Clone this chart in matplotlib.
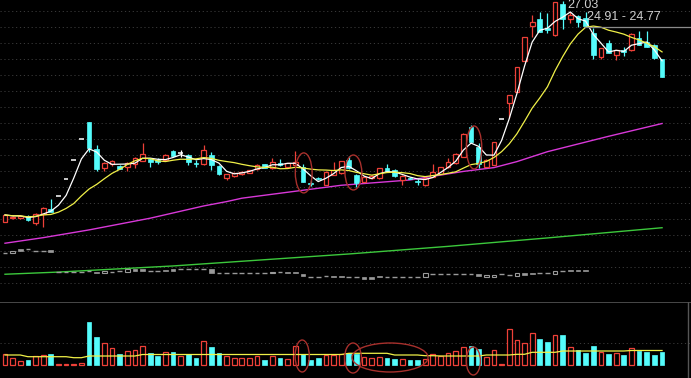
import numpy as np
import pandas as pd
import matplotlib
matplotlib.use("Agg")
import matplotlib.pyplot as plt
from matplotlib.patches import Ellipse

# ---------------- data ----------------
opens = [10.83, 11.08, 11.08, 11.25, 10.75, 11.39, 11.76, 12.72, 13.99, 15.39,
         16.93, 18.18, 16.15, 14.75, 15.05, 14.92, 14.82, 15.07, 15.31, 15.44,
         15.36, 15.36, 16.05, 15.85, 15.73, 15.16, 15.07, 15.73, 14.92, 14.00,
         14.19, 14.31, 14.43, 14.68, 15.05, 14.75, 15.12, 14.87, 14.99, 14.85,
         13.69, 14.04, 13.52, 14.26, 14.38, 15.36, 14.26, 13.77, 14.02, 14.02,
         14.75, 14.66, 13.89, 14.04, 13.80, 13.49, 14.13, 14.35, 14.81, 15.12,
         15.60, 17.76, 16.32, 14.85, 14.99, 18.34, 19.53, 20.38, 22.64, 25.20,
         25.70, 25.06, 24.55, 26.83, 25.70, 25.98, 25.78, 24.67, 22.93, 23.94,
         23.08, 23.45, 23.41, 24.31, 24.03, 23.81, 22.76]
closes = [11.32, 11.19, 11.25, 10.95, 11.39, 11.83, 11.56, 12.72, 13.99, 15.39,
          16.93, 16.22, 14.68, 15.12, 15.31, 14.72, 15.16, 15.49, 15.80, 15.19,
          15.24, 15.73, 15.66, 15.85, 15.21, 15.08, 16.10, 14.99, 14.30, 14.30,
          14.43, 14.50, 14.63, 14.99, 14.80, 15.24, 14.99, 15.12, 15.24, 13.77,
          13.61, 13.93, 14.50, 14.63, 15.29, 14.75, 13.65, 14.13, 14.19, 14.75,
          14.55, 14.15, 14.19, 13.98, 13.73, 14.05, 14.44, 14.82, 15.18, 15.82,
          17.27, 16.71, 15.09, 15.38, 16.67, 18.34, 20.17, 22.19, 24.41, 25.47,
          24.79, 24.88, 26.97, 25.73, 26.02, 25.48, 25.21, 23.08, 23.57, 23.25,
          23.45, 23.32, 24.62, 23.81, 23.67, 22.84, 21.44]
highs = [11.39, 11.25, 11.28, 11.28, 11.43, 11.91, 12.50, 12.72, 13.99, 15.39,
         16.93, 18.18, 16.46, 15.18, 15.36, 14.96, 15.21, 15.55, 16.63, 15.47,
         15.51, 15.77, 16.10, 16.10, 15.77, 15.36, 16.43, 15.97, 14.96, 14.33,
         14.48, 14.55, 14.66, 15.03, 15.07, 15.49, 15.44, 15.14, 15.99, 15.05,
         13.89, 14.11, 14.55, 15.24, 15.32, 15.66, 14.30, 14.19, 14.22, 14.77,
         15.07, 14.70, 14.22, 14.11, 13.97, 14.09, 15.10, 14.85, 15.47, 15.88,
         17.35, 17.93, 16.59, 15.44, 16.71, 18.34, 20.17, 22.19, 24.41, 26.02,
         26.26, 26.14, 27.00, 27.03, 26.26, 26.02, 26.26, 25.06, 23.59, 24.18,
         23.48, 23.69, 24.72, 24.84, 24.87, 23.85, 22.79]
lows = [10.77, 11.03, 11.03, 10.91, 10.58, 10.46, 11.54, 12.72, 13.99, 15.39,
        16.93, 15.97, 14.55, 14.55, 14.92, 14.70, 14.55, 14.77, 15.29, 14.87,
        15.07, 15.32, 15.62, 15.60, 14.99, 14.87, 14.99, 14.63, 14.26, 13.89,
        14.11, 14.26, 14.41, 14.63, 14.77, 14.72, 14.92, 14.85, 14.96, 13.74,
        13.45, 13.89, 13.49, 14.22, 14.33, 14.71, 13.35, 13.74, 13.98, 13.98,
        14.52, 14.11, 13.52, 13.93, 13.52, 13.45, 14.11, 14.33, 14.77, 15.07,
        15.58, 16.68, 14.77, 14.81, 14.96, 18.34, 18.45, 20.36, 22.60, 24.37,
        24.77, 24.67, 24.51, 24.99, 25.45, 25.14, 25.17, 22.76, 22.75, 23.23,
        22.71, 23.01, 23.37, 23.78, 23.63, 22.80, 21.43]
volumes = [10700, 6700, 4300, 5000, 9000, 10000, 11000, 900, 900, 900,
           2000, 43300, 28300, 21700, 17300, 10700, 14000, 15000, 19000, 11700,
           9300, 12700, 12700, 9300, 10700, 7300, 24000, 18300, 11700, 9000,
           7300, 7300, 7300, 9000, 5000, 9000, 6700, 6000, 19000, 10700,
           5000, 7300, 10000, 10000, 10700, 11700, 10700, 8300, 6700, 8300,
           7300, 5700, 6000, 5000, 5000, 6000, 10700, 9300, 12300, 14000,
           18000, 19000, 15700, 8300, 15000, 900, 36000, 25000, 21700, 31700,
           26000, 23300, 30000, 30000, 18300, 15000, 11700, 19000, 13300, 11000,
           12300, 10000, 16700, 14000, 12700, 10000, 13300]
vol_ma = ([10000] * 3 + [8300] * 6 + [7300] * 2 + [9000] * 7 + [10500] * 27 +
          [11700] * 6 + [10000] * 4 + [9300] * 2 + [9000] * 6 + [10000] * 4 +
          [10700] * 2 + [12700] * 4 + [14000] * 9 + [14500] * 5)

# long moving averages, read at a few candles
ma_mag_idx = [0, 5, 11, 19, 26, 29, 31, 44, 53, 60, 64, 67, 71, 79, 86]
ma_mag_val = [9.24, 9.65, 10.22, 11.08, 11.98, 12.30, 12.55, 13.50, 13.89,
              14.52, 14.80, 15.24, 15.97, 17.10, 18.04]
ma_grn_idx = [0, 7, 22, 45, 58, 71, 86]
ma_grn_val = [6.96, 7.12, 7.57, 8.45, 9.01, 9.63, 10.38]

# grey overlay series (open / close)
g_open = [8.55, 8.55, 8.78, 8.80, 8.70, 8.70, 8.75, 7.15, 7.11, 7.11,
          7.15, 7.23, 7.15, 7.03, 7.15, 7.23, 7.15, 7.33, 7.33, 7.20,
          7.20, 7.28, 7.33, 7.33, 7.33, 7.33, 7.33, 7.33, 7.08, 7.08,
          7.08, 7.08, 7.08, 7.08, 7.03, 7.03, 7.15, 7.15, 7.15, 6.98,
          6.78, 6.78, 6.84, 6.84, 6.84, 6.78, 6.78, 6.74, 6.74, 6.84,
          6.78, 6.78, 6.74, 6.74, 6.74, 6.78, 6.98, 6.98, 6.98, 6.98,
          6.98, 6.98, 6.98, 6.78, 6.78, 6.98, 6.91, 6.86, 7.03, 7.08,
          7.03, 7.03, 6.98, 7.23, 7.28, 7.28, 7.28]
g_close = [8.55, 8.70, 8.67, 8.80, 8.70, 8.70, 8.58, 7.15, 7.11, 7.11,
           7.15, 7.23, 7.03, 7.20, 7.15, 7.23, 7.33, 7.23, 7.23, 7.20,
           7.20, 7.20, 7.20, 7.33, 7.33, 7.33, 7.33, 7.08, 7.08, 7.08,
           7.08, 7.08, 7.08, 7.08, 7.03, 7.15, 7.15, 7.03, 7.03, 6.84,
           6.78, 6.78, 6.84, 6.74, 6.74, 6.78, 6.78, 6.62, 6.62, 6.74,
           6.78, 6.78, 6.74, 6.74, 6.74, 7.03, 6.98, 6.98, 6.98, 6.98,
           6.98, 6.98, 6.84, 6.91, 6.91, 6.98, 6.91, 7.03, 6.91, 6.96,
           7.03, 7.03, 7.23, 7.23, 7.18, 7.18, 7.18]

high_label = "27.03"
range_label = "24.91 - 24.77"
range_line_price = 25.12
range_line_start = 76

# hand-drawn highlight ellipses: (center candle, center value, width, height)
price_marks = [(39.1, 14.41, 2.2, 2.94), (45.6, 14.44, 2.2, 2.57), (61.4, 16.28, 2.0, 3.16)]
volume_marks = [(38.9, 9000, 1.85, 32000), (45.55, 7000, 2.2, 30000),
                (50.4, 7500, 9.95, 29000), (61.3, 4000, 1.85, 28000)]

# ---------------- styling ----------------
RED = "#EE4038"
CYAN = "#54FCFC"
GREY = "#9A9A9A"
W = 0.62

o = np.array(opens); c = np.array(closes); h = np.array(highs); l = np.array(lows)
v = np.array(volumes)
n = len(o)
x = np.arange(n)
up = c > o
dn = c < o
fl = c == o

fig = plt.figure(figsize=(6.91, 3.78), dpi=100, facecolor="black")
ax = fig.add_axes([0, 76 / 378, 1, 302 / 378])
axv = fig.add_axes([0, 0, 1, 76 / 378])
for a in (ax, axv):
    a.set_facecolor("black")
    a.set_xlim(-0.654, 89.79)
    a.set_xticks([]); a.set_yticks([])
    for s in a.spines.values():
        s.set_visible(False)
ax.set_ylim(4.92, 27.12)
axv.set_ylim(-13000, 63000)

# dotted grid
for k in range(18):
    f = 1 - (10.7 + 16 * k) / 302
    ax.plot([0, 1], [f, f], transform=ax.transAxes, color="#3a3a3a",
            lw=0.7, ls=(0, (1.2, 2.8)), zorder=0)
axv.axhline(22000, color="#3a3a3a", lw=0.7, ls=(0, (1.2, 2.8)), zorder=0)
axv.plot([0, 1], [1, 1], transform=axv.transAxes, color="#555555", lw=1.2, zorder=1)
axv.axvline(89.4, color="#555555", lw=1.0)

# long MAs
ax.plot(ma_mag_idx, ma_mag_val, color="#D838D8", lw=1.0, zorder=2)
ax.plot(ma_grn_idx, ma_grn_val, color="#3CC83C", lw=1.0, zorder=2)

# grey overlay series
go = np.array(g_open); gc = np.array(g_close); gx = np.arange(len(go))
gu = gc > go; gd = gc < go; gf = gc == go
ax.bar(gx[gu], gc[gu] - go[gu], bottom=go[gu], width=W, facecolor="black",
       edgecolor=GREY, lw=0.8, zorder=2)
ax.bar(gx[gd], go[gd] - gc[gd], bottom=gc[gd], width=W, color=GREY,
       edgecolor=GREY, lw=0.5, zorder=2)
ax.hlines(gc[gf], gx[gf] - W / 2, gx[gf] + W / 2, color=GREY, lw=1.0, zorder=2)

# candles
for i in range(n):
    if up[i]:
        ax.vlines(i, c[i], h[i], color=RED, lw=0.9, zorder=3)
        ax.vlines(i, l[i], o[i], color=RED, lw=0.9, zorder=3)
    elif dn[i]:
        ax.vlines(i, l[i], h[i], color=CYAN, lw=0.9, zorder=3)
    else:
        ax.vlines(i, l[i], h[i], color="white", lw=0.9, zorder=3)
ax.bar(x[up], c[up] - o[up], bottom=o[up], width=W, facecolor="black",
       edgecolor=RED, lw=0.9, zorder=4)
ax.bar(x[dn], o[dn] - c[dn], bottom=c[dn], width=W, color=CYAN,
       edgecolor=CYAN, lw=0.5, zorder=4)
ax.hlines(c[fl], x[fl] - W / 2, x[fl] + W / 2, color="white", lw=1.1, zorder=4)

# short MAs
cs = pd.Series(c)
ax.plot(x, cs.rolling(3, min_periods=1).mean(), color="white", lw=0.9, zorder=5)
ax.plot(x, cs.rolling(10, min_periods=1).mean(), color="#F0F048", lw=0.9, zorder=5)

# labels
ax.annotate(high_label, xy=(int(np.argmax(h)), h.max()), xytext=(4.5, -4),
            textcoords="offset pixels", color="#D0D0D0", fontsize=9,
            family="Liberation Sans", ha="left", va="center", zorder=6)
ax.hlines(range_line_price, range_line_start - 0.2, 89.79, color="#8A8A8A",
          lw=0.9, zorder=5)
ax.annotate(range_label, xy=(range_line_start, range_line_price), xytext=(1.5, 10),
            textcoords="offset pixels", color="#D0D0D0", fontsize=9,
            family="Liberation Sans", ha="left", va="center", zorder=6)

# volume
vu = c >= o
axv.bar(x[vu], v[vu], width=W, facecolor="black", edgecolor=RED, lw=0.9, zorder=3)
axv.bar(x[~vu], v[~vu], width=W, color=CYAN, edgecolor=CYAN, lw=0.5, zorder=3)
axv.plot(x, vol_ma, color="#F0F048", lw=0.9, zorder=4)

# highlight ellipses
for cx, cy, ew, eh in price_marks:
    ax.add_patch(Ellipse((cx, cy), ew, eh, fill=False, edgecolor="#A8302C", lw=1.0, zorder=6))
for cx, cy, ew, eh in volume_marks:
    axv.add_patch(Ellipse((cx, cy), ew, eh, fill=False, edgecolor="#A8302C", lw=1.0, zorder=6))

fig.savefig("out.png", dpi=100, facecolor="black")
